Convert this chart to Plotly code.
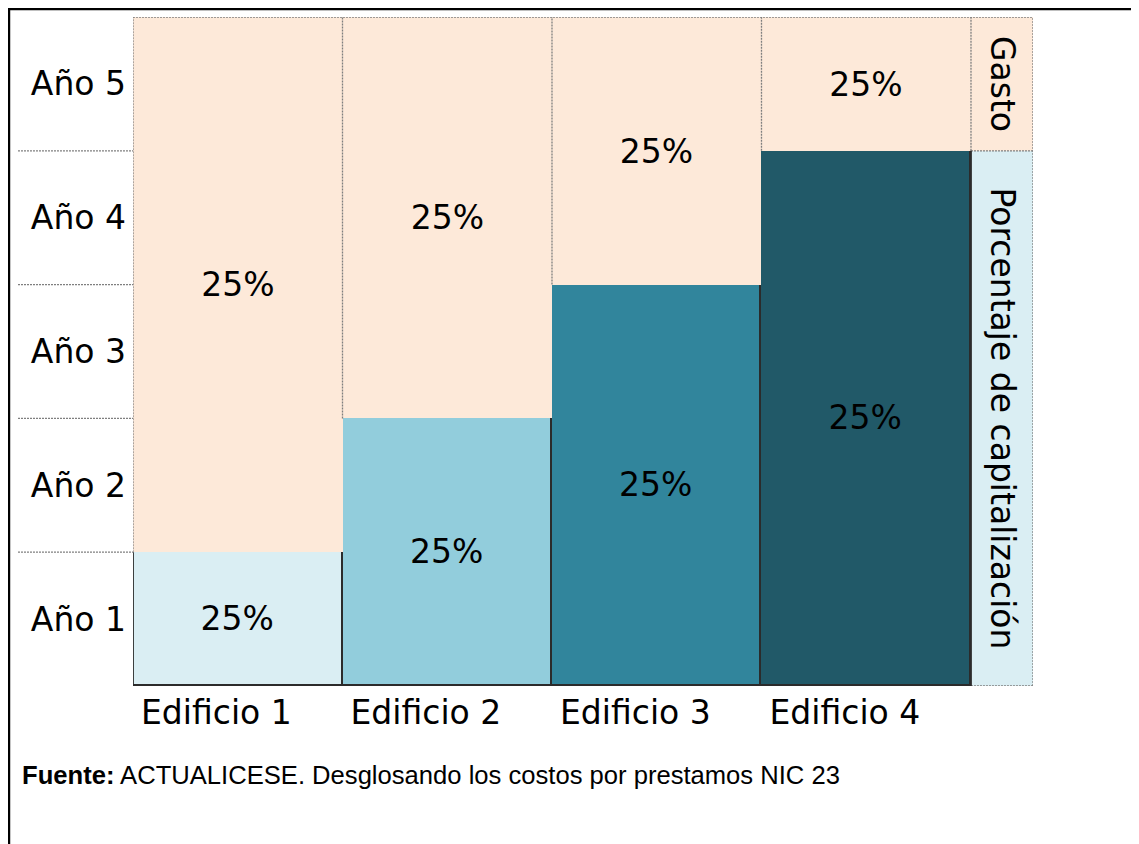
import plotly.graph_objects as go

# ---- data ----
edificios = ["Edificio 1", "Edificio 2", "Edificio 3", "Edificio 4"]
anios = ["Año 1", "Año 2", "Año 3", "Año 4", "Año 5"]
anios_capitalizados = [1, 2, 3, 4]          # years capitalised per building
anios_gasto = [4, 3, 2, 1]                  # years expensed per building
etiqueta_valor = "25%"
leyenda_labels = ["Porcentaje de capitalización", "Gasto"]
leyenda_valores = [4, 1]
fuente = "<b>Fuente:</b> ACTUALICESE. Desglosando los costos por prestamos NIC 23"

# ---- styles ----
cap_colors = ["#DAEEF3", "#92CDDC", "#31859C", "#215968"]
peach = "#FDE9D9"
light_blue = "#DAEEF3"
FONT = "DejaVu Sans"
FS = 33
outline = dict(color="#2B2B2B", width=1.8)
dot = dict(color="#7F7F7F", width=1.3, dash="2px,1px")

x_pos = list(range(len(edificios)))
leg_w = 0.296
leg_x = len(edificios) - 0.5 + leg_w / 2
n_years = len(anios)
x_left = -0.5
x_right = len(edificios) - 0.5 + leg_w

fig = go.Figure()

# capitalised part
fig.add_trace(go.Bar(
    x=x_pos, y=anios_capitalizados, width=1,
    marker=dict(color=cap_colors, line=outline),
    text=[etiqueta_valor] * len(edificios), textposition="inside",
    insidetextanchor="middle", textfont=dict(family=FONT, size=FS, color="black"),
    showlegend=False, hoverinfo="skip", cliponaxis=False,
))
# expensed part
fig.add_trace(go.Bar(
    x=x_pos, y=anios_gasto, width=1,
    marker=dict(color=peach, line=dict(width=0)),
    text=[etiqueta_valor] * len(edificios), textposition="inside",
    insidetextanchor="middle", textfont=dict(family=FONT, size=FS, color="black"),
    showlegend=False, hoverinfo="skip",
))
# right-hand legend column
fig.add_trace(go.Bar(
    x=[leg_x], y=[leyenda_valores[0]], width=leg_w, base=0,
    marker=dict(color=light_blue, line=dict(width=0)),
    text=[leyenda_labels[0]], textposition="inside", textangle=90,
    insidetextanchor="middle", textfont=dict(family=FONT, size=FS, color="black"),
    showlegend=False, hoverinfo="skip",
))
fig.add_trace(go.Bar(
    x=[leg_x], y=[leyenda_valores[1]], width=leg_w, base=leyenda_valores[0],
    marker=dict(color=peach, line=dict(width=0)),
    text=[leyenda_labels[1]], textposition="inside", textangle=90,
    insidetextanchor="middle", textfont=dict(family=FONT, size=FS, color="black"),
    showlegend=False, hoverinfo="skip",
))

shapes = []
# dotted vertical boundaries, only over the expense (peach) part
for i in range(len(edificios) + 1):
    left_cap = anios_capitalizados[i - 1] if i > 0 else 0
    right_cap = anios_capitalizados[i] if i < len(edificios) else 0
    y_start = max(left_cap, right_cap)
    shapes.append(dict(type="line", xref="x", yref="y", x0=i - 0.5, x1=i - 0.5,
                       y0=y_start, y1=n_years, line=dot, layer="above"))
# solid left edge of first capitalised bar
shapes.append(dict(type="line", xref="x", yref="y", x0=x_left, x1=x_left,
                   y0=0, y1=anios_capitalizados[0], line=outline, layer="above"))
# legend column outline and divider
shapes.append(dict(type="line", xref="x", yref="y", x0=x_right, x1=x_right,
                   y0=0, y1=n_years, line=dot, layer="above"))
shapes.append(dict(type="line", xref="x", yref="y", x0=len(edificios) - 0.5, x1=x_right,
                   y0=0, y1=0, line=dot, layer="above"))
shapes.append(dict(type="line", xref="x", yref="y", x0=len(edificios) - 0.5, x1=x_right,
                   y0=leyenda_valores[0], y1=leyenda_valores[0], line=dot, layer="above"))
shapes.append(dict(type="line", xref="x", yref="y", x0=len(edificios) - 0.5, x1=len(edificios) - 0.5,
                   y0=0, y1=anios_capitalizados[-1], line=outline, layer="above"))
# top border
shapes.append(dict(type="line", xref="x", yref="y", x0=x_left, x1=x_right,
                   y0=n_years, y1=n_years, line=dot, layer="above"))
# gridline extensions into the label area
for k in range(1, n_years):
    shapes.append(dict(type="line", xref="paper", yref="y", x0=-0.1278, x1=0,
                       y0=k, y1=k, line=dot, layer="above"))
# outer frame
shapes.append(dict(type="rect", xref="paper", yref="paper",
                   x0=-0.1378, x1=1.5, y0=-1.0, y1=1.012,
                   line=dict(color="black", width=2.5), layer="above"))

fig.update_layout(
    width=1139, height=844,
    margin=dict(l=125, r=114, t=9, b=166),
    barmode="stack", bargap=0,
    plot_bgcolor="white", paper_bgcolor="white",
    font=dict(family=FONT, size=FS, color="black"),
    shapes=shapes,
    xaxis=dict(
        range=[x_left, x_right], showgrid=False, zeroline=False, showline=False,
        tickmode="array", tickvals=[i - 0.5 for i in x_pos], ticktext=edificios,
        ticklabelposition="outside right", ticklabelshift=8, ticklabelstandoff=4,
        ticks="", tickfont=dict(family=FONT, size=FS, color="black"),
    ),
    yaxis=dict(
        range=[0, n_years], showgrid=False, zeroline=False, showline=False,
        tickmode="array", tickvals=[k + 0.5 for k in range(n_years)], ticktext=anios,
        ticks="", ticklabelstandoff=6, tickfont=dict(family=FONT, size=FS, color="black"),
    ),
    annotations=[dict(
        text=fuente, xref="paper", yref="paper", x=-0.1256, y=-0.133,
        xanchor="left", yanchor="middle", showarrow=False,
        font=dict(family="Liberation Sans, Arial", size=25.6, color="black"),
    )],
)

fig.write_html("out.html")
